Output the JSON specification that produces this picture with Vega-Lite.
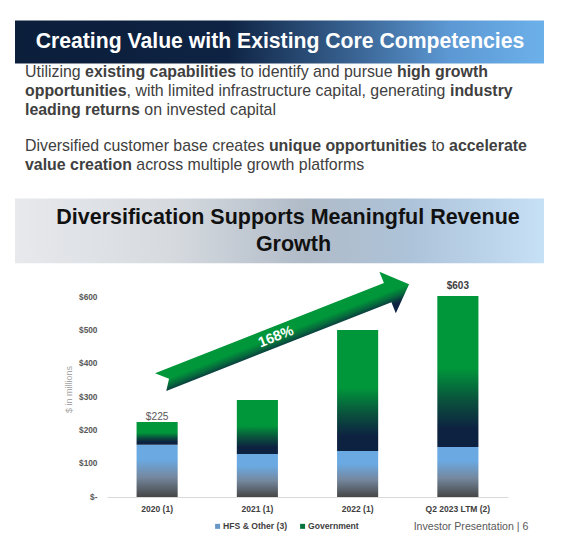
{
  "$schema": "https://vega.github.io/schema/vega-lite/v6.json",
  "width": 401,
  "height": 201,
  "autosize": {"type": "none"},
  "padding": {"left": 107, "top": 296, "right": 55, "bottom": 41},
  "background": "#ffffff",
  "config": {
    "font": "Liberation Sans",
    "view": {"stroke": null},
    "axisY": {
      "labelFontSize": 8.3, "labelFontWeight": "bold", "labelColor": "#595959", "labelPadding": 10, "labelOverlap": false,
      "ticks": false, "tickSize": 0, "domain": false, "grid": false,
      "titleFontSize": 9, "titleFontWeight": "normal", "titleColor": "#a6a6a6",
      "titleX": -39, "titleY": 93, "titleAngle": 270, "titleAlign": "center", "titleBaseline": "middle"
    },
    "axisX": {
      "labelFontSize": 8.5, "labelFontWeight": "bold", "labelColor": "#404040", "labelPadding": 7.4,
      "labelAngle": 0, "ticks": false, "tickSize": 0, "domainColor": "#d9d9d9", "domainWidth": 1, "grid": false
    }
  },
  "datasets": {
    "revenue": [
      {"period": "2020 (1)", "segment": "HFS & Other (3)", "revenue": 157},
      {"period": "2020 (1)", "segment": "Government", "revenue": 68},
      {"period": "2021 (1)", "segment": "HFS & Other (3)", "revenue": 129},
      {"period": "2021 (1)", "segment": "Government", "revenue": 162},
      {"period": "2022 (1)", "segment": "HFS & Other (3)", "revenue": 138},
      {"period": "2022 (1)", "segment": "Government", "revenue": 363},
      {"period": "Q2 2023 LTM (2)", "segment": "HFS & Other (3)", "revenue": 150},
      {"period": "Q2 2023 LTM (2)", "segment": "Government", "revenue": 453}
    ]
  },
  "layer": [
    {
      "data": {"values": [{}]},
      "mark": {"type": "rect", "x": -92, "x2": 437, "y": -275.5, "y2": -232.4,
        "fill": {"gradient": "linear", "x1": 0, "y1": 0, "x2": 1, "y2": 0, "stops": [
          {"offset": 0, "color": "#0b1e3a"}, {"offset": 0.4, "color": "#0e2343"},
          {"offset": 0.65, "color": "#3b6696"}, {"offset": 0.82, "color": "#5c98d3"}, {"offset": 1, "color": "#6cb0ea"}]}}
    },
    {
      "data": {"values": [{}]},
      "mark": {"type": "text", "text": "Creating Value with Existing Core Competencies", "x": 173, "y": -248.2,
        "align": "center", "baseline": "alphabetic", "fontSize": 21.2, "fontWeight": "bold", "fill": "#ffffff"}
    },
    {"data": {"values": [{}]}, "mark": {"type": "text", "text": "Utilizing", "x": -82, "y": -218.7, "align": "left", "baseline": "alphabetic", "fontSize": 15.9, "fill": "#404040"}},
    {"data": {"values": [{}]}, "mark": {"type": "text", "text": "existing capabilities", "x": -21.9, "y": -218.7, "align": "left", "baseline": "alphabetic", "fontSize": 15.9, "fontWeight": "bold", "fill": "#404040"}},
    {"data": {"values": [{}]}, "mark": {"type": "text", "text": "to identify and pursue", "x": 133.6, "y": -218.7, "align": "left", "baseline": "alphabetic", "fontSize": 15.9, "fill": "#404040"}},
    {"data": {"values": [{}]}, "mark": {"type": "text", "text": "high growth", "x": 290, "y": -218.7, "align": "left", "baseline": "alphabetic", "fontSize": 15.9, "fontWeight": "bold", "fill": "#404040"}},
    {"data": {"values": [{}]}, "mark": {"type": "text", "text": "opportunities", "x": -82, "y": -199.8, "align": "left", "baseline": "alphabetic", "fontSize": 15.9, "fontWeight": "bold", "fill": "#404040"}},
    {"data": {"values": [{}]}, "mark": {"type": "text", "text": ", with limited infrastructure capital, generating", "x": 19.6, "y": -199.8, "align": "left", "baseline": "alphabetic", "fontSize": 15.9, "fill": "#404040"}},
    {"data": {"values": [{}]}, "mark": {"type": "text", "text": "industry", "x": 343, "y": -199.8, "align": "left", "baseline": "alphabetic", "fontSize": 15.9, "fontWeight": "bold", "fill": "#404040"}},
    {"data": {"values": [{}]}, "mark": {"type": "text", "text": "leading returns", "x": -82, "y": -180.9, "align": "left", "baseline": "alphabetic", "fontSize": 15.9, "fontWeight": "bold", "fill": "#404040"}},
    {"data": {"values": [{}]}, "mark": {"type": "text", "text": "on invested capital", "x": 37.3, "y": -180.9, "align": "left", "baseline": "alphabetic", "fontSize": 15.9, "fill": "#404040"}},
    {"data": {"values": [{}]}, "mark": {"type": "text", "text": "Diversified customer base creates", "x": -82, "y": -144.7, "align": "left", "baseline": "alphabetic", "fontSize": 15.9, "fill": "#404040"}},
    {"data": {"values": [{}]}, "mark": {"type": "text", "text": "unique opportunities", "x": 161.9, "y": -144.7, "align": "left", "baseline": "alphabetic", "fontSize": 15.9, "fontWeight": "bold", "fill": "#404040"}},
    {"data": {"values": [{}]}, "mark": {"type": "text", "text": "to", "x": 324.4, "y": -144.7, "align": "left", "baseline": "alphabetic", "fontSize": 15.9, "fill": "#404040"}},
    {"data": {"values": [{}]}, "mark": {"type": "text", "text": "accelerate", "x": 342.1, "y": -144.7, "align": "left", "baseline": "alphabetic", "fontSize": 15.9, "fontWeight": "bold", "fill": "#404040"}},
    {"data": {"values": [{}]}, "mark": {"type": "text", "text": "value creation", "x": -82, "y": -125.8, "align": "left", "baseline": "alphabetic", "fontSize": 15.9, "fontWeight": "bold", "fill": "#404040"}},
    {"data": {"values": [{}]}, "mark": {"type": "text", "text": "across multiple growth platforms", "x": 29.3, "y": -125.8, "align": "left", "baseline": "alphabetic", "fontSize": 15.9, "fill": "#404040"}},
    {
      "data": {"values": [{}]},
      "mark": {"type": "rect", "x": -92, "x2": 437, "y": -97.4, "y2": -32.8,
        "fill": {"gradient": "linear", "x1": 0, "y1": 0, "x2": 1, "y2": 0, "stops": [
          {"offset": 0, "color": "#e7e9ec"}, {"offset": 0.3, "color": "#d6dadf"},
          {"offset": 0.55, "color": "#b0bbc8"}, {"offset": 0.75, "color": "#adc3d9"}, {"offset": 1, "color": "#c6e0f6"}]}}
    },
    {"data": {"values": [{}]}, "mark": {"type": "text", "text": "Diversification Supports Meaningful Revenue", "x": 181, "y": -71.6, "align": "center", "baseline": "alphabetic", "fontSize": 21.5, "fontWeight": "bold", "fill": "#111111"}},
    {"data": {"values": [{}]}, "mark": {"type": "text", "text": "Growth", "x": 186.5, "y": -45.3, "align": "center", "baseline": "alphabetic", "fontSize": 21.5, "fontWeight": "bold", "fill": "#111111"}},
    {"data": {"values": [{}]}, "mark": {"type": "text", "text": "Investor Presentation | 6", "x": 421.3, "y": 233.5, "align": "right", "baseline": "alphabetic", "fontSize": 10.6, "fill": "#595959"}},
    {
      "data": {"name": "revenue"},
      "transform": [
        {"stack": "revenue", "groupby": ["period"], "sort": [{"field": "segment", "order": "descending"}], "as": ["r0", "r1"]},
        {"filter": "datum.segment === 'HFS & Other (3)'"}
      ],
      "mark": {"type": "bar", "opacity": 1,
        "fill": {"gradient": "linear", "x1": 0, "y1": 0, "x2": 0, "y2": 1, "stops": [
          {"offset": 0, "color": "#6aa9e2"}, {"offset": 0.28, "color": "#6aa9e2"}, {"offset": 0.62, "color": "#75889f"}, {"offset": 1, "color": "#464646"}]}},
      "encoding": {
        "x": {"field": "period", "type": "nominal", "sort": null, "title": null, "scale": {"paddingInner": 0.59, "paddingOuter": 0.295}},
        "y": {"field": "r1", "type": "quantitative", "title": "$ in millions",
          "scale": {"domain": [0, 603], "nice": false},
          "axis": {"values": [0, 100, 200, 300, 400, 500, 600], "tickCount": 7, "labelOverlap": false, "labelBound": false, "labelExpr": "datum.value === 0 ? '$-' : '$' + datum.value"}},
        "y2": {"field": "r0"}
      }
    },
    {
      "data": {"name": "revenue"},
      "transform": [
        {"stack": "revenue", "groupby": ["period"], "sort": [{"field": "segment", "order": "descending"}], "as": ["r0", "r1"]},
        {"filter": "datum.segment === 'Government'"}
      ],
      "mark": {"type": "bar", "opacity": 1,
        "fill": {"gradient": "linear", "x1": 0, "y1": 0, "x2": 0, "y2": 1, "stops": [
          {"offset": 0, "color": "#00963a"}, {"offset": 0.48, "color": "#00963a"}, {"offset": 0.7, "color": "#0a4f3d"},
          {"offset": 0.88, "color": "#0d2141"}, {"offset": 1, "color": "#0d2141"}]}},
      "encoding": {
        "x": {"field": "period", "type": "nominal", "sort": null, "title": null},
        "y": {"field": "r1", "type": "quantitative", "title": "$ in millions",
          "axis": {"values": [0, 100, 200, 300, 400, 500, 600], "tickCount": 7, "labelOverlap": false, "labelBound": false, "labelExpr": "datum.value === 0 ? '$-' : '$' + datum.value"}},
        "y2": {"field": "r0"}
      }
    },
    {
      "data": {"name": "revenue"},
      "transform": [
        {"joinaggregate": [{"op": "sum", "field": "revenue", "as": "total"}], "groupby": ["period"]},
        {"filter": "datum.period === '2020 (1)' && datum.segment === 'Government'"}
      ],
      "mark": {"type": "point", "filled": true, "opacity": 1, "size": 4, "strokeWidth": 0, "angle": 338.5,
        "shape": "M15.9,-46.1L261.9,-46.1L261.9,-58.4L284.9,-35.8L261.9,-13.6L261.9,-25.6L19.9,-25.6L26.9,-35.8Z",
        "fill": {"gradient": "linear", "x1": 0, "y1": 0, "x2": 0, "y2": 1, "stops": [
          {"offset": 0, "color": "#00963a"}, {"offset": 0.5, "color": "#00963a"}, {"offset": 0.64, "color": "#06683c"},
          {"offset": 0.8, "color": "#0d2141"}, {"offset": 1, "color": "#0d2141"}]}},
      "encoding": {
        "x": {"field": "period", "type": "nominal", "sort": null, "title": null},
        "y": {"field": "total", "type": "quantitative", "title": "$ in millions",
          "axis": {"values": [0, 100, 200, 300, 400, 500, 600], "tickCount": 7, "labelOverlap": false, "labelBound": false, "labelExpr": "datum.value === 0 ? '$-' : '$' + datum.value"}}
      }
    },
    {
      "data": {"name": "revenue"},
      "transform": [
        {"joinaggregate": [{"op": "sum", "field": "revenue", "as": "total"}], "groupby": ["period"]},
        {"filter": "datum.period === '2020 (1)' && datum.segment === 'Government'"}
      ],
      "mark": {"type": "text", "text": "168%", "angle": 338.5, "dx": 141.8, "dy": -35.5, "align": "center", "baseline": "middle",
        "fontSize": 14.3, "fontWeight": "bold", "fill": "#ffffff"},
      "encoding": {
        "x": {"field": "period", "type": "nominal", "sort": null, "title": null},
        "y": {"field": "total", "type": "quantitative", "title": "$ in millions",
          "axis": {"values": [0, 100, 200, 300, 400, 500, 600], "tickCount": 7, "labelOverlap": false, "labelBound": false, "labelExpr": "datum.value === 0 ? '$-' : '$' + datum.value"}}
      }
    },
    {
      "data": {"name": "revenue"},
      "transform": [
        {"joinaggregate": [{"op": "sum", "field": "revenue", "as": "total"}], "groupby": ["period"]},
        {"filter": "datum.period === '2020 (1)' && datum.segment === 'Government'"}
      ],
      "mark": {"type": "text", "align": "center", "baseline": "alphabetic", "dy": -2.5, "fontSize": 10.2, "fill": "#595959"},
      "encoding": {
        "x": {"field": "period", "type": "nominal", "sort": null, "title": null},
        "y": {"field": "total", "type": "quantitative", "title": "$ in millions",
          "axis": {"values": [0, 100, 200, 300, 400, 500, 600], "tickCount": 7, "labelOverlap": false, "labelBound": false, "labelExpr": "datum.value === 0 ? '$-' : '$' + datum.value"}},
        "text": {"field": "total", "type": "quantitative", "format": "$.0f"}
      }
    },
    {
      "data": {"name": "revenue"},
      "transform": [
        {"joinaggregate": [{"op": "sum", "field": "revenue", "as": "total"}], "groupby": ["period"]},
        {"filter": "datum.period === 'Q2 2023 LTM (2)' && datum.segment === 'Government'"}
      ],
      "mark": {"type": "text", "align": "center", "baseline": "alphabetic", "dy": -7.3, "fontSize": 10, "fontWeight": "bold", "fill": "#404040"},
      "encoding": {
        "x": {"field": "period", "type": "nominal", "sort": null, "title": null},
        "y": {"field": "total", "type": "quantitative", "title": "$ in millions",
          "axis": {"values": [0, 100, 200, 300, 400, 500, 600], "tickCount": 7, "labelOverlap": false, "labelBound": false, "labelExpr": "datum.value === 0 ? '$-' : '$' + datum.value"}},
        "text": {"field": "total", "type": "quantitative", "format": "$.0f"}
      }
    },
    {
      "data": {"name": "revenue"},
      "mark": {"type": "square", "opacity": 0},
      "encoding": {
        "x": {"field": "period", "type": "nominal", "sort": null, "title": null},
        "y": {"field": "revenue", "type": "quantitative", "title": "$ in millions",
          "axis": {"values": [0, 100, 200, 300, 400, 500, 600], "tickCount": 7, "labelOverlap": false, "labelBound": false, "labelExpr": "datum.value === 0 ? '$-' : '$' + datum.value"}},
        "color": {
          "field": "segment", "type": "nominal",
          "scale": {"domain": ["HFS & Other (3)", "Government"], "range": ["#6797c4", "#03733b"]},
          "legend": {
            "title": null, "orient": "none", "legendX": 106.3, "legendY": 226, "direction": "horizontal",
            "symbolType": "square", "symbolSize": 25, "symbolStrokeWidth": 0, "symbolOpacity": 1,
            "labelFontSize": 8.6, "labelFontWeight": "bold", "labelColor": "#404040", "labelOffset": 1.2,
            "columnPadding": 11, "padding": 0
          }
        }
      }
    }
  ]
}
